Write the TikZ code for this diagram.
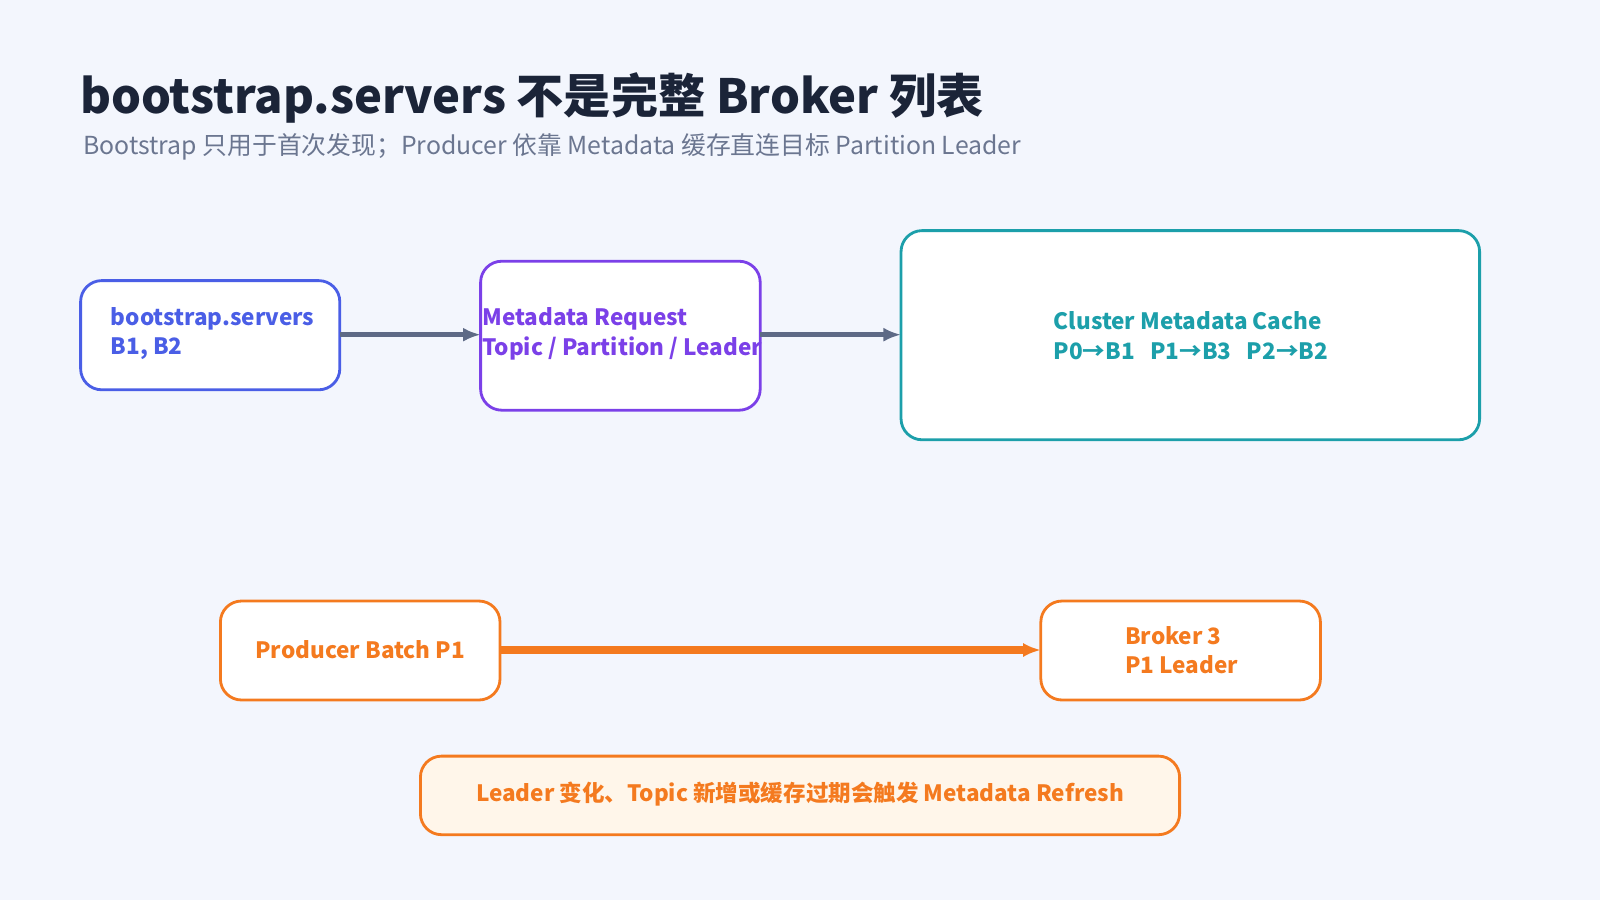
\documentclass[tikz,border=0pt]{standalone}
\usepackage{fontspec}
\setmainfont{Noto Sans CJK SC}
\usetikzlibrary{arrows.meta,positioning}
\definecolor{bgc}{HTML}{F3F6FD}
\definecolor{titc}{HTML}{1B2438}
\definecolor{subc}{HTML}{6B7690}
\definecolor{bluec}{HTML}{4A5EE6}
\definecolor{purc}{HTML}{7B40E8}
\definecolor{tealc}{HTML}{1C9FAA}
\definecolor{orc}{HTML}{F47A1F}
\definecolor{arrc}{HTML}{5E6A86}
\definecolor{notec}{HTML}{FFF6EA}
\tikzstyle{box} = [line width=0.8pt, rounded corners=6pt, fill=white]
\tikzstyle{lbl} = [font=\fontsize{6.4}{8.4}\selectfont\bfseries, align=left, inner sep=0pt]
\tikzstyle{link} = [-{Latex[length=5pt,width=4pt]}, line width=1.3pt]
\begin{document}
\begin{tikzpicture}[x=0.0102cm, y=-0.0102cm]
                    \fill[bgc] (0,0) rectangle (1568,882);
                    \node[anchor=base west, inner sep=0pt, text=titc, font=\fontsize{13.4}{16}\selectfont\bfseries] (title) at (78,111) {bootstrap.servers 不是完整 Broker 列表};
                    \node[anchor=base west, inner sep=0pt, text=subc, font=\fontsize{7.05}{9}\selectfont] (sub) at (81,151) {Bootstrap 只用于首次发现；Producer 依靠 Metadata 缓存直连目标 Partition Leader};

                    % top row
                    \draw[box, draw=bluec] (79,275) rectangle (333,382);
                    \node[lbl, text=bluec, anchor=west] (boot) at (108,327) {bootstrap.servers\\B1, B2};
                    \coordinate (bootE) at (333,328);
                    \draw[box, draw=purc] (471,256) rectangle (745,402);
                    \node[lbl, text=purc, anchor=west] (meta) at (472,327) {Metadata Request\\Topic / Partition / Leader};
                    \coordinate (metaW) at (471,328);
                    \coordinate (metaE) at (745,328);
                    \draw[box, draw=tealc] (883,226) rectangle (1450,431);
                    \node[lbl, text=tealc, anchor=west] (cache) at (1032,329) {Cluster Metadata Cache\\P0→B1\ \ \ P1→B3\ \ \ P2→B2};
                    \coordinate (cacheW) at (883,328);
                    \draw[link, arrc] (bootE) -- (metaW);
                    \draw[link, arrc] (metaE) -- (cacheW);

                    % bottom row
                    \draw[box, draw=orc] (216,589) rectangle (490,686);
                    \node[lbl, text=orc] (batch) at (353,637) {Producer Batch P1};
                    \draw[box, draw=orc] (1020,589) rectangle (1294,686);
                    \node[lbl, text=orc, anchor=west] (broker) at (1102,637) {Broker 3\\P1 Leader};
                    \coordinate (batchE) at (490,637);
                    \coordinate (brokerW) at (1020,637);
                    \draw[link, orc, line width=2pt] (batchE) -- (brokerW);
                    \draw[box, draw=orc, fill=notec] (412,741) rectangle (1156,818);
                    \node[lbl, text=orc] (note) at (784,778) {Leader 变化、Topic 新增或缓存过期会触发 Metadata Refresh};
\end{tikzpicture}
\end{document}
